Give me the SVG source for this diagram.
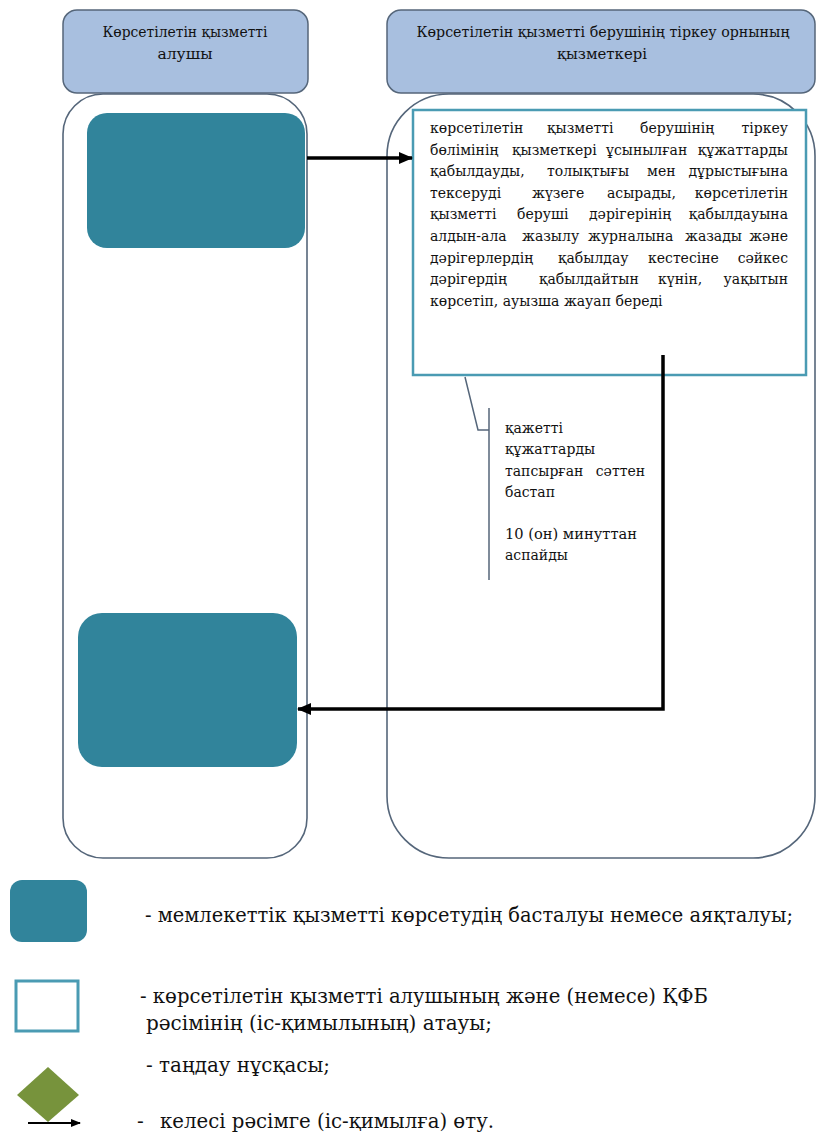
<svg xmlns="http://www.w3.org/2000/svg" width="817" height="1136" viewBox="0 0 817 1136">
<style>
.hdr{fill:#A8BFDF;stroke:#55667A;stroke-width:1.5}
.lane{fill:none;stroke:#55667A;stroke-width:1.6}
.term{fill:#31849B}
.proc{fill:#fff;stroke:#4A9BB3;stroke-width:2.5}
.t{font-family:"DejaVu Serif","Liberation Serif",serif;fill:#111}
.h{font-size:14.5px;text-anchor:middle}
.b{font-size:14px}
.e{text-anchor:end}
.a{font-size:14px}
.l{font-size:20px}
.conn{fill:none;stroke:#000;stroke-width:3.5}
</style>
<defs>
<marker id="ah" markerUnits="userSpaceOnUse" markerWidth="14" markerHeight="14" viewBox="0 0 14 14" refX="13" refY="7" orient="auto">
<path d="M0,1 L14,7 L0,13 Z" fill="#000"/>
</marker>
<marker id="ahs" markerUnits="userSpaceOnUse" markerWidth="10" markerHeight="10" viewBox="0 0 10 10" refX="9" refY="5" orient="auto">
<path d="M0,1 L10,5 L0,9 Z" fill="#000"/>
</marker>
</defs>

<g id="lane-left">
<rect class="lane" x="63" y="94" width="244" height="764" rx="40"/>
</g>
<g id="lane-right">
<rect class="lane" x="387" y="94" width="428" height="764" rx="62"/>
</g>

<g id="header-left">
<rect class="hdr" x="63" y="10" width="245" height="83" rx="14"/>
<text class="t h" x="185" y="37" textLength="165" lengthAdjust="spacingAndGlyphs">Көрсетілетін қызметті</text>
<text class="t h" x="185" y="59" textLength="55" lengthAdjust="spacingAndGlyphs">алушы</text>
</g>
<g id="header-right">
<rect class="hdr" x="387" y="10" width="428" height="83" rx="14"/>
<text class="t h" x="603" y="37" textLength="373" lengthAdjust="spacingAndGlyphs">Көрсетілетін қызметті берушінің тіркеу орнының</text>
<text class="t h" x="602" y="59" textLength="90" lengthAdjust="spacingAndGlyphs">қызметкері</text>
</g>

<g id="start">
<rect class="term" x="87" y="113" width="218" height="135" rx="20"/>
</g>
<g id="end">
<rect class="term" x="78" y="613" width="219" height="154" rx="24"/>
</g>

<g id="process">
<rect class="proc" x="413" y="110" width="393" height="265"/>
<g class="t b">
<text x="430" y="133">көрсетілетін</text>
<text x="547" y="133">қызметті</text>
<text x="640" y="133">берушінің</text>
<text class="e" x="788" y="133">тіркеу</text>
<text x="430" y="155">бөлімінің</text>
<text x="512" y="155">қызметкері</text>
<text x="606" y="155">ұсынылған</text>
<text class="e" x="788" y="155">құжаттарды</text>
<text x="430" y="176">қабылдауды,</text>
<text x="547" y="176">толықтығы</text>
<text x="647" y="176">мен</text>
<text class="e" x="788" y="176">дұрыстығына</text>
<text x="430" y="198">тексеруді</text>
<text x="532" y="198">жүзеге</text>
<text x="607" y="198">асырады,</text>
<text class="e" x="788" y="198">көрсетілетін</text>
<text x="430" y="219">қызметті</text>
<text x="517" y="219">беруші</text>
<text x="589" y="219">дәрігерінің</text>
<text class="e" x="788" y="219">қабылдауына</text>
<text x="430" y="241">алдын-ала</text>
<text x="522" y="241">жазылу</text>
<text x="588" y="241">журналына</text>
<text x="685" y="241">жазады</text>
<text class="e" x="788" y="241">және</text>
<text x="430" y="263">дәрігерлердің</text>
<text x="558" y="263">қабылдау</text>
<text x="648" y="263">кестесіне</text>
<text class="e" x="788" y="263">сәйкес</text>
<text x="430" y="284">дәрігердің</text>
<text x="539" y="284">қабылдайтын</text>
<text x="658" y="284">күнін,</text>
<text class="e" x="788" y="284">уақытын</text>
<text x="430" y="306">көрсетіп, ауызша жауап береді</text>
</g>
</g>

<g id="annotation">
<path d="M465,377 L478,430 L489,430 M489,408 V580" fill="none" stroke="#55667A" stroke-width="1.5"/>
<g class="t a">
<text x="505" y="433">қажетті</text>
<text x="505" y="454">құжаттарды</text>
<text x="505" y="476">тапсырған</text>
<text class="e" x="645" y="476">сәттен</text>
<text x="505" y="497">бастап</text>
<text x="505" y="539" textLength="132" lengthAdjust="spacingAndGlyphs">10 (он) минуттан</text>
<text x="505" y="560">аспайды</text>
</g>
</g>

<g id="connectors">
<path class="conn" d="M307,158 H412" marker-end="url(#ah)"/>
<path class="conn" d="M663,355 V709 H298" marker-end="url(#ah)"/>
</g>

<g id="legend">
<rect class="term" x="10" y="880" width="77" height="62" rx="12"/>
<text class="t l" x="145" y="922" textLength="648" lengthAdjust="spacingAndGlyphs">- мемлекеттік қызметті көрсетудің басталуы немесе аяқталуы;</text>
<rect x="16" y="981" width="62" height="50" fill="#fff" stroke="#4A9BB3" stroke-width="3"/>
<text class="t l" x="140" y="1003" textLength="568" lengthAdjust="spacingAndGlyphs">- көрсетілетін қызметті алушының және (немесе) ҚФБ</text>
<text class="t l" x="146" y="1030" textLength="346" lengthAdjust="spacingAndGlyphs">рәсімінің (іс-қимылының) атауы;</text>
<text class="t l" x="146" y="1072" textLength="184" lengthAdjust="spacingAndGlyphs">- таңдау нұсқасы;</text>
<polygon points="48,1067 79,1095 48,1122 17,1095" fill="#77933C"/>
<path d="M28,1123 H80" stroke="#000" stroke-width="1.8" fill="none" marker-end="url(#ahs)"/>
<text class="t l" x="137" y="1128">-</text>
<text class="t l" x="160" y="1128" textLength="334" lengthAdjust="spacingAndGlyphs">келесі рәсімге (іс-қимылға) өту.</text>
</g>
</svg>
